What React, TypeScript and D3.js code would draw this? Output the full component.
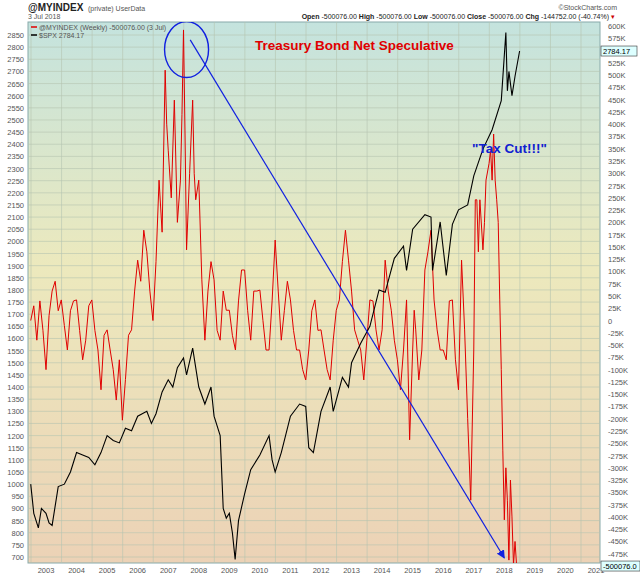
import React from "react";
import * as d3 from "d3";

const spxDates = [2002.5,2002.6,2002.75,2002.85,2003.0,2003.1,2003.2,2003.4,2003.6,2003.8,2004.0,2004.2,2004.4,2004.6,2004.8,2005.0,2005.2,2005.4,2005.6,2005.8,2006.0,2006.3,2006.45,2006.6,2006.8,2007.0,2007.15,2007.3,2007.5,2007.6,2007.8,2007.9,2008.0,2008.2,2008.4,2008.5,2008.7,2008.8,2008.9,2009.0,2009.1,2009.19,2009.3,2009.5,2009.7,2010.0,2010.3,2010.4,2010.5,2010.7,2011.0,2011.3,2011.5,2011.6,2011.75,2012.0,2012.3,2012.4,2012.7,2012.9,2013.0,2013.3,2013.6,2013.9,2014.1,2014.4,2014.7,2014.8,2015.0,2015.4,2015.6,2015.65,2015.9,2016.1,2016.3,2016.5,2016.8,2017.0,2017.3,2017.6,2017.9,2018.05,2018.1,2018.15,2018.25,2018.35,2018.5];
const spxValues = [1000,880,820,900,880,840,830,990,1000,1050,1130,1120,1110,1080,1130,1200,1180,1170,1230,1220,1280,1300,1250,1290,1380,1430,1400,1480,1520,1450,1560,1480,1400,1330,1400,1280,1200,900,860,880,800,690,850,960,1060,1120,1200,1100,1050,1130,1280,1330,1320,1150,1130,1300,1400,1300,1440,1400,1500,1580,1650,1800,1790,1930,1980,1880,2050,2110,2100,1880,2080,1860,2070,2130,2150,2270,2380,2460,2580,2860,2620,2700,2600,2680,2784];

const tbDates = [2002.5,2002.6,2002.7,2002.8,2002.9,2003.0,2003.1,2003.2,2003.3,2003.4,2003.5,2003.6,2003.7,2003.8,2003.9,2004.0,2004.1,2004.2,2004.3,2004.4,2004.5,2004.6,2004.7,2004.8,2004.9,2005.0,2005.1,2005.2,2005.3,2005.4,2005.5,2005.6,2005.7,2005.8,2005.9,2006.0,2006.1,2006.2,2006.3,2006.4,2006.5,2006.6,2006.7,2006.8,2006.9,2006.95,2007.0,2007.1,2007.2,2007.3,2007.4,2007.45,2007.5,2007.55,2007.6,2007.7,2007.8,2007.85,2007.9,2008.0,2008.1,2008.2,2008.3,2008.4,2008.5,2008.6,2008.7,2008.8,2008.9,2009.0,2009.1,2009.2,2009.3,2009.4,2009.5,2009.6,2009.7,2009.8,2009.9,2010.0,2010.1,2010.2,2010.3,2010.4,2010.5,2010.6,2010.7,2010.8,2010.9,2011.0,2011.1,2011.2,2011.3,2011.4,2011.5,2011.6,2011.7,2011.8,2011.9,2012.0,2012.1,2012.2,2012.3,2012.4,2012.5,2012.6,2012.7,2012.8,2012.9,2013.0,2013.1,2013.2,2013.3,2013.4,2013.5,2013.6,2013.7,2013.8,2013.9,2014.0,2014.1,2014.2,2014.3,2014.4,2014.5,2014.6,2014.7,2014.8,2014.9,2015.0,2015.05,2015.1,2015.2,2015.3,2015.4,2015.5,2015.6,2015.7,2015.8,2015.9,2016.0,2016.1,2016.2,2016.3,2016.4,2016.5,2016.6,2016.7,2016.8,2016.9,2017.0,2017.05,2017.1,2017.15,2017.2,2017.3,2017.35,2017.4,2017.5,2017.55,2017.6,2017.65,2017.7,2017.75,2017.8,2017.85,2017.9,2017.95,2018.0,2018.05,2018.1,2018.15,2018.2,2018.25,2018.3,2018.35,2018.4,2018.45,2018.5];
const tbValues = [0,30,-40,40,-20,-100,10,60,80,20,42,-10,-60,20,40,42,-20,-80,-40,30,42,-20,-60,-141,-30,-19,-60,-100,-162,-80,-203,-120,-30,-19,60,123,80,184,140,60,0,120,286,180,510,400,347,250,449,200,286,420,592,380,144,300,449,300,246,286,83,-40,60,120,83,-20,-40,60,21,21,-30,-60,40,103,103,20,-40,60,60,62,0,-60,-60,40,164,60,-40,20,80,42,-20,-60,-60,-100,-121,-60,20,42,-20,-19,-60,-100,-121,-40,21,42,120,184,123,60,-19,-40,-60,-121,-40,42,40,-19,-60,-19,123,60,21,-40,-80,-141,-60,42,-243,-60,21,-19,-121,-60,103,140,184,42,-19,-60,-60,-80,40,42,-80,-141,123,-19,-200,-366,-60,246,246,140,246,144,200,286,320,347,286,380,286,246,200,42,-100,-264,-406,-300,-366,-488,-325,-400,-498,-450,-498];

const leftTicks = d3.range(700, 2851, 50);
const rightTicks = d3.range(-475, 601, 25);
const years = d3.range(2003, 2022);

export default function App() {
  const W = 640, H = 576;
  const L = 28, R = 600, T = 22, B = 563;
  const x = d3.scaleLinear().domain([2003, 2021]).range([46, 596]);
  const yL = d3.scaleLinear().domain([700, 2850]).range([557, 35]);
  const yR = d3.scaleLinear().domain([-500, 600]).range([566, 26]);
  const spxLine = d3.line<number>().x((_, i) => x(spxDates[i])).y(d => yL(d));
  const tbLine = d3.line<number>().x((_, i) => x(tbDates[i])).y(d => yR(d));
  const gray = "#555";
  const f = "Arial, 'Liberation Sans', sans-serif";
  const ax1 = x(2007.72), ay1 = yL(2830), ax2 = x(2018.0), ay2 = yL(696);
  return (
    <svg width={W} height={H} style={{ position: "absolute", left: 0, top: 0 }} fontFamily={f}>
      <defs>
        <linearGradient id="bg" x1="0" y1="0" x2="0" y2="1">
          <stop offset="0" stopColor="#c4e3de" />
          <stop offset="0.45" stopColor="#ece9bd" />
          <stop offset="1" stopColor="#ecd2b6" />
        </linearGradient>
        <marker id="ah" viewBox="0 0 10 10" refX="9" refY="5" markerWidth="7" markerHeight="7" orient="auto">
          <path d="M0,0 L10,5 L0,10 z" fill="#1020e0" />
        </marker>
        <clipPath id="cp"><rect x={L} y={T} width={R - L} height={B - T} /></clipPath>
      </defs>
      <rect width={W} height={H} fill="#fff" />
      <rect x={L} y={T} width={R - L} height={B - T} fill="url(#bg)" stroke="#8aa" strokeWidth={1} />
      {leftTicks.map(t => <line key={"g" + t} x1={L} x2={R} y1={yL(t)} y2={yL(t)} stroke="#b5c4b0" strokeWidth={0.6} />)}
      {years.map(t => <line key={"v" + t} x1={x(t) - 15} x2={x(t) - 15} y1={T} y2={B} stroke="#b5c4b0" strokeWidth={0.6} />)}
      {leftTicks.map(t => <text key={"l" + t} x={L - 4} y={yL(t) + 3} fontSize={7.5} textAnchor="end" fill={gray}>{t}</text>)}
      {rightTicks.map(t => <text key={"r" + t} x={R + 8} y={yR(t) + 3} fontSize={7.5} fill={gray}>{t === 0 ? "0" : t + "K"}</text>)}
      {years.map(t => <text key={"y" + t} x={x(t)} y={573} fontSize={7.5} textAnchor="middle" fill={gray}>{t}</text>)}
      <g clipPath="url(#cp)">
        <path d={tbLine(tbValues) || ""} fill="none" stroke="#e00000" strokeWidth={1} />
        <path d={spxLine(spxValues) || ""} fill="none" stroke="#000" strokeWidth={1.1} />
        <line x1={ax1} y1={ay1} x2={ax2} y2={ay2} stroke="#1020e0" strokeWidth={1.2} markerEnd="url(#ah)" />
        <ellipse cx={x(2007.6)} cy={yL(2790)} rx={22} ry={28} fill="none" stroke="#1020e0" strokeWidth={1.4} />
      </g>
      <text x={255} y={50} fontSize={13.5} fontWeight="bold" fill="#e00000">Treasury Bond Net Speculative</text>
      <text x={472} y={153} fontSize={13.5} fontWeight="bold" fill="#1020d0">"Tax Cut!!!"</text>
      <line x1={31} x2={37} y1={27} y2={27} stroke="#e00000" strokeWidth={1.5} />
      <text x={39} y={29.5} fontSize={7} fill={gray}>@MYINDEX (Weekly) -500076.00 (3 Jul)</text>
      <line x1={31} x2={37} y1={35} y2={35} stroke="#000" strokeWidth={1.5} />
      <text x={39} y={37.5} fontSize={7} fill={gray}>$SPX 2784.17</text>
      <text x={28} y={11} fontSize={10} fontWeight="bold" fill="#222">@MYINDEX</text>
      <text x={88} y={11} fontSize={7} fill={gray}>(private) UserData</text>
      <text x={28} y={19} fontSize={7} fill={gray}>3 Jul 2018</text>
      <text x={617} y={10} fontSize={7} textAnchor="end" fill={gray}>©StockCharts.com</text>
      <text x={615} y={19} fontSize={7} textAnchor="end" fill="#222">
        <tspan fontWeight="bold">Open</tspan> -500076.00 <tspan fontWeight="bold">High</tspan> -500076.00 <tspan fontWeight="bold">Low</tspan> -500076.00 <tspan fontWeight="bold">Close</tspan> -500076.00 <tspan fontWeight="bold">Chg</tspan> -144752.00 (-40.74%) <tspan fill="#c00">▾</tspan>
      </text>
      <rect x={601} y={yL(2784) - 5} width={36} height={10} fill="#dff" stroke="#333" strokeWidth={0.6} />
      <text x={603} y={yL(2784) + 3} fontSize={7.5} fill="#000">2784.17</text>
      <rect x={601} y={yR(-500.076) - 5} width={39} height={10} fill="#dff" stroke="#333" strokeWidth={0.6} />
      <text x={603} y={yR(-500.076) + 3} fontSize={7.5} fill="#000">-500076.0</text>
    </svg>
  );
}
